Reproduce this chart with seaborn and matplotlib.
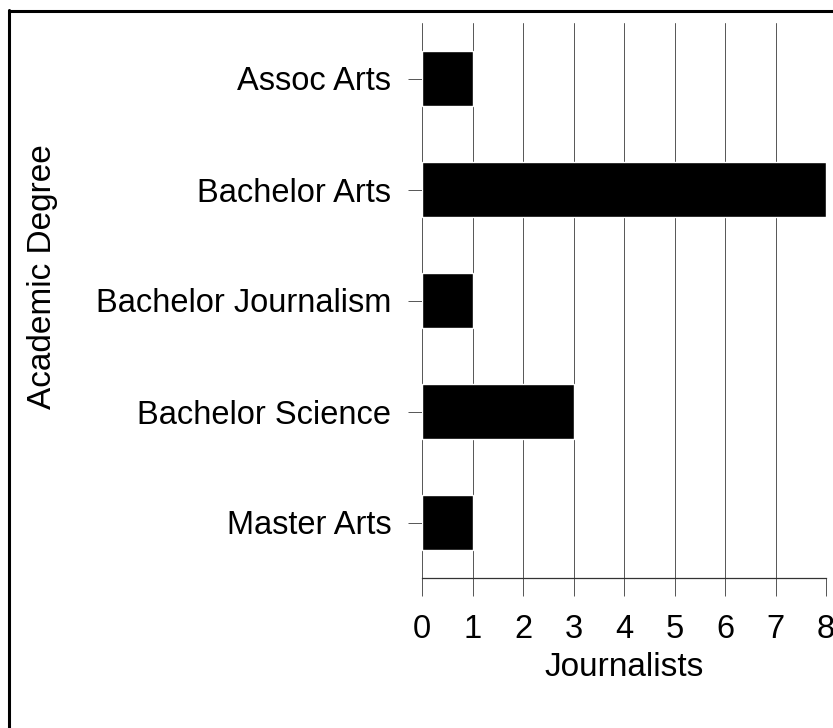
import matplotlib
matplotlib.use("Agg")
import matplotlib.pyplot as plt
import seaborn as sns
import pandas as pd
from matplotlib.lines import Line2D

degrees = ["Assoc Arts", "Bachelor Arts", "Bachelor Journalism", "Bachelor Science", "Master Arts"]
journalists = [1, 8, 1, 3, 1]
x_ticks = [0, 1, 2, 3, 4, 5, 6, 7, 8]

df = pd.DataFrame({"Academic Degree": degrees, "Journalists": journalists})

sns.set_style("white")
plt.rcParams["font.family"] = ["Liberation Sans", "DejaVu Sans"]
plt.rcParams["text.color"] = "black"
plt.rcParams["axes.labelcolor"] = "black"
plt.rcParams["xtick.color"] = "black"
plt.rcParams["ytick.color"] = "black"

fig = plt.figure(figsize=(8.33, 7.28), dpi=100)
ax = fig.add_axes([422/833, 1-578/728, (826-422)/833, (578-23)/728])

sns.barplot(data=df, x="Journalists", y="Academic Degree", orient="h",
            color="black", width=0.5, saturation=1, ax=ax, zorder=3)

ax.set_xlim(0, 8)
ax.set_ylim(4.5, -0.5)
ax.set_xticks(x_ticks)
ax.set_xticklabels([str(t) for t in x_ticks])
ax.grid(axis="x", color="#555555", linewidth=0.7, zorder=0)
ax.grid(axis="y", visible=False)

for s in ["top", "right", "left"]:
    ax.spines[s].set_visible(False)
ax.spines["bottom"].set_color("#333333")
ax.spines["bottom"].set_linewidth(0.9)

ax.tick_params(axis="x", direction="out", length=13, width=0.7, color="#555555",
               labelsize=23.5, labelcolor="black", pad=13, bottom=True)
ax.tick_params(axis="y", direction="out", length=10, width=0.7, color="#555555",
               labelsize=23.5, labelcolor="black", pad=12, left=True)

ax.set_xlabel("Journalists", fontsize=24, labelpad=5, color="black")
ax.set_ylabel("Academic Degree", fontsize=24, color="black")
ax.yaxis.set_label_coords((58-422)/404, (578-277)/555)

# figure border (left and top only visible; cropped on right/bottom)
fig.add_artist(Line2D([9/833, 9/833], [0, 1-10/728], transform=fig.transFigure,
                      color="black", linewidth=2.2))
fig.add_artist(Line2D([9/833, 1], [1-11/728, 1-11/728], transform=fig.transFigure,
                      color="black", linewidth=2.2))

fig.savefig("out.png", dpi=100, facecolor="white")
